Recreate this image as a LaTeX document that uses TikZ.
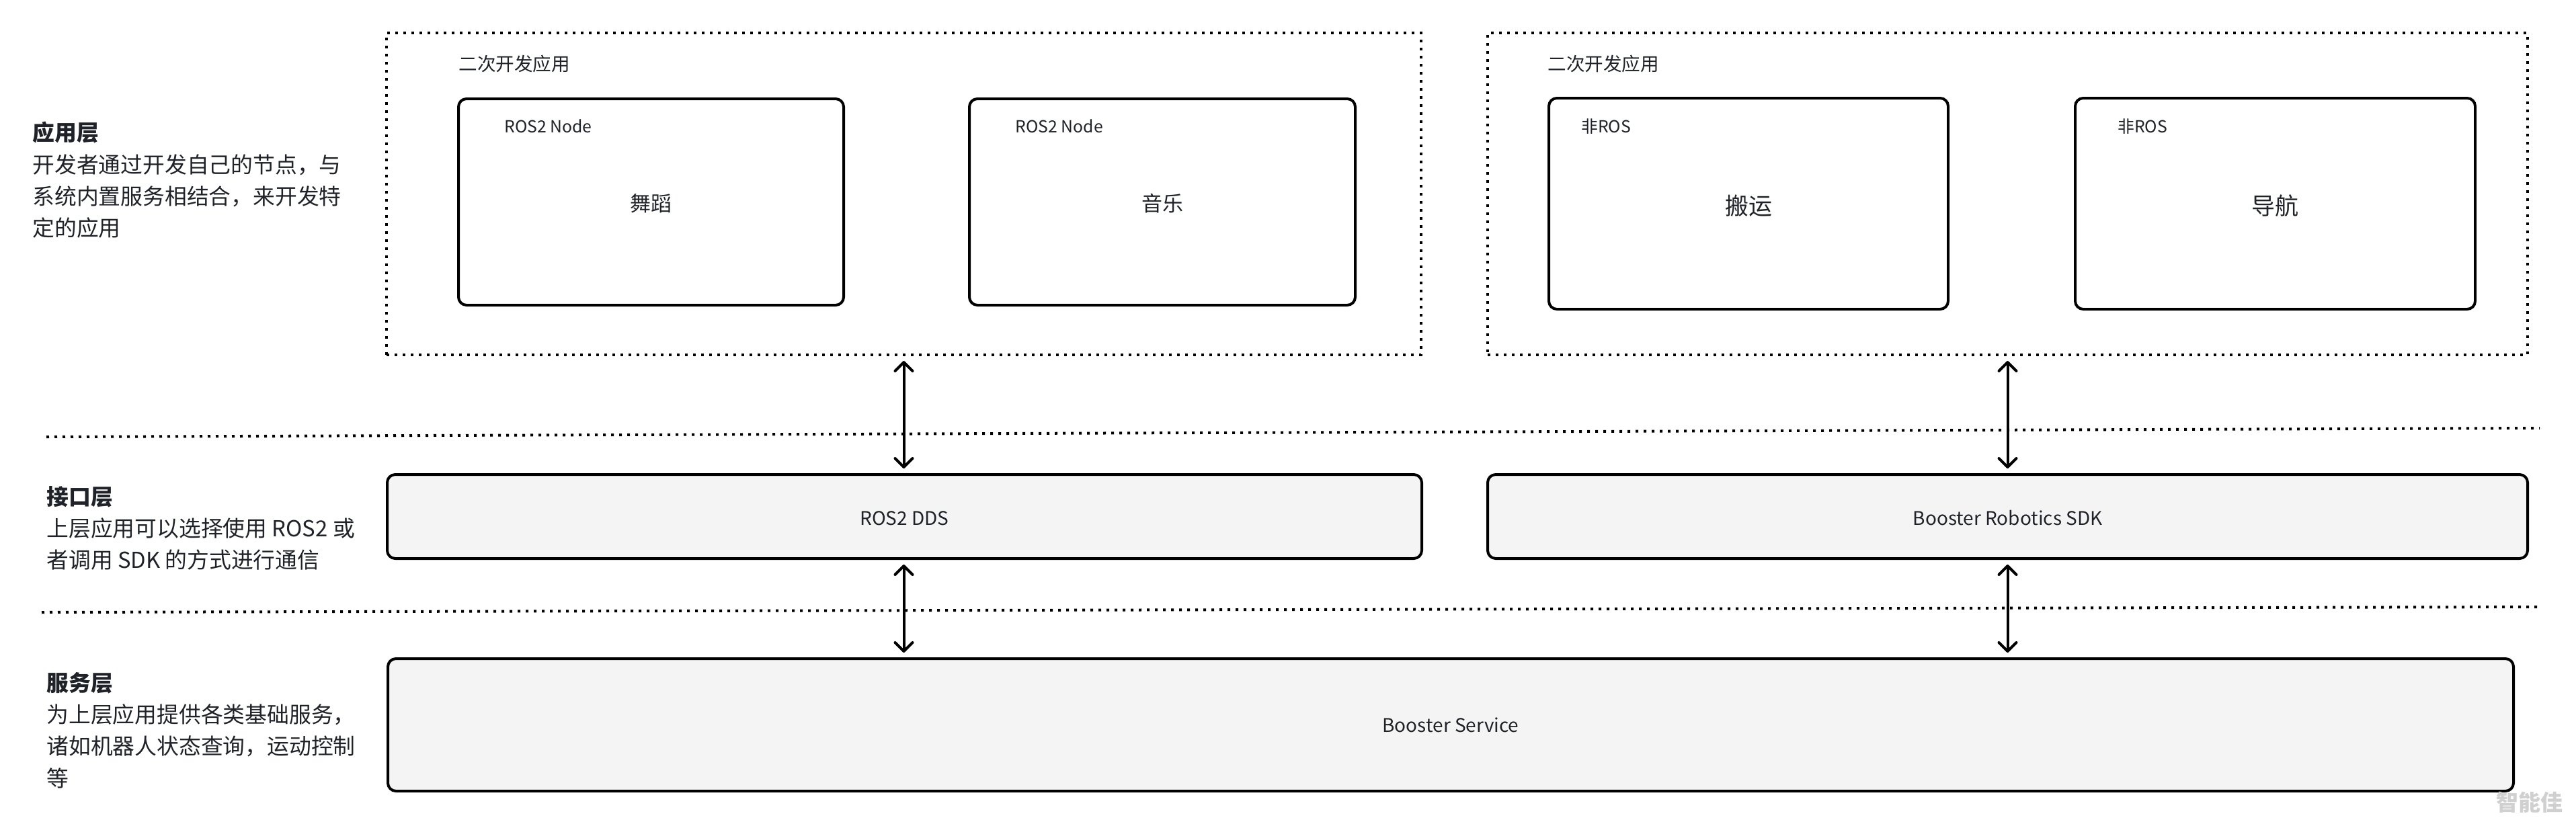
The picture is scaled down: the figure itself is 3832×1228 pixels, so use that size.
\documentclass[tikz,border=0pt]{standalone}
\usepackage{fontspec}
\setmainfont{Noto Sans CJK SC}
\usetikzlibrary{arrows.meta}
\definecolor{ink}{HTML}{1F2329}
\definecolor{panel}{HTML}{F4F4F4}
\definecolor{mark}{HTML}{D0D0D0}
\tikzset{
  dotbox/.style={draw=black,line width=2pt,dash pattern=on 2pt off 4pt,inner sep=0pt,outer sep=0pt},
  sepline/.style={draw=black,line width=2pt,dash pattern=on 2pt off 4pt},
  appbox/.style={draw=black,line width=2pt,rounded corners=6pt,fill=white,inner sep=0pt,outer sep=0pt,text=ink},
  grayboxx/.style={appbox,fill=panel},
  conn/.style={draw=black,line width=2pt,{Straight Barb[length=6.5pt,width=13pt,round]}-{Straight Barb[length=6.5pt,width=13pt,round]}},
  small/.style={text=ink,inner sep=0pt,font=\fontsize{13.8pt}{16pt}\selectfont},
  tagtext/.style={text=ink,inner sep=0pt,font=\fontsize{12.4pt}{16pt}\selectfont},
  midtext/.style={font=\fontsize{15.5pt}{18pt}\selectfont},
  bigtext/.style={font=\fontsize{17.5pt}{20pt}\selectfont},
  boxtext/.style={font=\fontsize{14pt}{16pt}\selectfont},
  lefttext/.style={text=ink,anchor=north west,align=left,inner sep=0pt,font=\fontsize{16.4pt}{23.6pt}\selectfont},
}
\begin{document}
\begin{tikzpicture}[x=0.5pt,y=-0.5pt]
\useasboundingbox (0,0) rectangle (3832,1228);
% dotted containers
\node[dotbox,minimum width=769.5pt,minimum height=239.5pt] (g1) at (1344.5,288.5) {};
\node[dotbox,minimum width=773.5pt,minimum height=239.5pt] (g2) at (2986.5,288.5) {};
\node[small,anchor=west] (g1t) at (682,95) {二次开发应用};
\node[small,anchor=west] (g2t) at (2302,95) {二次开发应用};
% app boxes
\node[appbox,minimum width=286.5pt,minimum height=153.5pt] (dance) at (968.5,300.5) {};
\node[appbox,minimum width=287pt,minimum height=153.5pt] (music) at (1729,300.5) {};
\node[appbox,minimum width=297pt,minimum height=157pt] (carry) at (2601,303) {};
\node[appbox,minimum width=297.5pt,minimum height=157pt] (nav) at (3384.5,303) {};
\node[midtext,text=ink,inner sep=0pt] (dancet) at (968.5,303) {舞蹈};
\node[midtext,text=ink,inner sep=0pt] (musict) at (1729,303) {音乐};
\node[bigtext,text=ink,inner sep=0pt] (carryt) at (2601,306) {搬运};
\node[bigtext,text=ink,inner sep=0pt] (navt) at (3384.5,306) {导航};
\node[tagtext,anchor=west] (l1) at (750,188) {ROS2 Node};
\node[tagtext,anchor=west] (l2) at (1510,188) {ROS2 Node};
\node[tagtext,anchor=west] (l3) at (2352,188) {非ROS};
\node[tagtext,anchor=west] (l4) at (3150,188) {非ROS};
% interface and service
\node[grayboxx,minimum width=769.5pt,minimum height=62.5pt] (dds) at (1345.5,768.5) {};
\node[grayboxx,minimum width=773.5pt,minimum height=62.5pt] (sdk) at (2986.5,768.5) {};
\node[grayboxx,minimum width=1581pt,minimum height=98.5pt] (svc) at (2158,1078.5) {};
\node[boxtext,text=ink,inner sep=0pt] (ddst) at (1345.5,771) {ROS2 DDS};
\node[boxtext,text=ink,inner sep=0pt] (sdkt) at (2986.5,771) {Booster Robotics SDK};
\node[boxtext,text=ink,inner sep=0pt] (svct) at (2158,1079) {Booster Service};
% separators
\coordinate (s1a) at (69,650);
\coordinate (s1b) at (3778,637);
\coordinate (s2a) at (62,911);
\coordinate (s2b) at (3778,903);
\draw[sepline] (s1a) -- (s1b);
\draw[sepline] (s2a) -- (s2b);
% connectors
\draw[conn,shorten <=4.5pt,shorten >=4.5pt] (g1.south) -- (g1.south |- dds.north);
\draw[conn,shorten <=4.5pt,shorten >=4.5pt] (g2.south) -- (g2.south |- sdk.north);
\draw[conn,shorten <=4.5pt,shorten >=4.5pt] (g1.south |- dds.south) -- (g1.south |- svc.north);
\draw[conn,shorten <=4.5pt,shorten >=4.5pt] (g2.south |- sdk.south) -- (g2.south |- svc.north);
% left labels
\node[lefttext] (t1) at (48,181) {\textbf{应用层}\\开发者通过开发自己的节点，与\\系统内置服务相结合，来开发特\\定的应用};
\node[lefttext] (t2) at (69,723) {\textbf{接口层}\\上层应用可以选择使用 ROS2 或\\者调用 SDK 的方式进行通信};
\node[lefttext] (t3) at (69,1000) {\textbf{服务层}\\为上层应用提供各类基础服务，\\诸如机器人状态查询，运动控制\\等};
% watermark
\node[text=mark,inner sep=0pt,anchor=center,font=\fontsize{16.5pt}{18pt}\selectfont\bfseries] (wm) at (3763,1194) {智能佳};
\end{tikzpicture}
\end{document}
